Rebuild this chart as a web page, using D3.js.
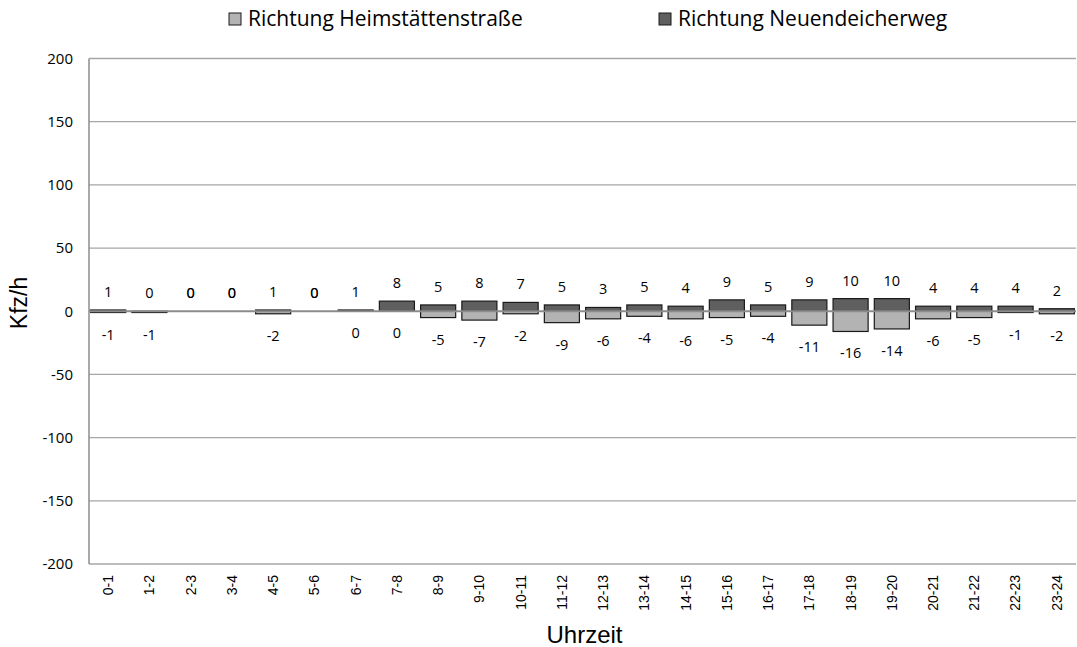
<!DOCTYPE html>
<html>
<head>
<meta charset="utf-8">
<script src="https://cdn.jsdelivr.net/npm/d3@7"></script>
<style>
  html, body { margin: 0; padding: 0; background: #fff; }
  svg { display: block; }
</style>
</head>
<body>
<svg id="chart" width="1077" height="647"></svg>
<script>
const categories = ["0-1","1-2","2-3","3-4","4-5","5-6","6-7","7-8","8-9","9-10","10-11","11-12","12-13","13-14","14-15","15-16","16-17","17-18","18-19","19-20","20-21","21-22","22-23","23-24"];
const heimValues = [-1,-1,0,0,-2,0,0,0,-5,-7,-2,-9,-6,-4,-6,-5,-4,-11,-16,-14,-6,-5,-1,-2];
const neuenValues = [1,0,0,0,1,0,1,8,5,8,7,5,3,5,4,9,5,9,10,10,4,4,4,2];
const yTicks = [-200,-150,-100,-50,0,50,100,150,200];
const seriesNames = ["Richtung Heimstättenstraße", "Richtung Neuendeicherweg"];
const seriesColors = ["#b3b3b3", "#5f5f5f"];

(function () {
const svg = d3.select("#chart");
const pLeft = 89, pRight = 1076, pTop = 58.5, pBottom = 564;

const x = d3.scaleBand().domain(categories).range([pLeft, pRight]).paddingInner(0.15).paddingOuter(0.04);
const y = d3.scaleLinear().domain([-200, 200]).range([pBottom, pTop]);

// gridlines
svg.append("g").selectAll("line").data(yTicks.filter(t => t !== 0)).join("line")
  .attr("x1", pLeft).attr("x2", pRight)
  .attr("y1", d => y(d)).attr("y2", d => y(d))
  .attr("stroke", "#a6a6a6").attr("stroke-width", 1.3);

// y axis line
svg.append("line").attr("x1", pLeft).attr("x2", pLeft).attr("y1", pTop).attr("y2", pBottom)
  .attr("stroke", "#8c8c8c").attr("stroke-width", 1.5);

// y tick labels
svg.append("g").selectAll("text").data(yTicks).join("text")
  .attr("x", 73).attr("y", d => y(d)).attr("dy", "0.35em")
  .attr("text-anchor", "end")
  .attr("font-family", "Open Sans, sans-serif").attr("font-size", 15)
  .attr("fill", "#000")
  .text(d => d);

// bars
const series = [
  { name: seriesNames[0], values: heimValues, color: seriesColors[0] },
  { name: seriesNames[1], values: neuenValues, color: seriesColors[1] }
];
series.forEach(s => {
  svg.append("g").selectAll("rect")
    .data(categories.map((c, i) => ({ c, v: s.values[i] })).filter(d => d.v !== 0))
    .join("rect")
    .attr("x", d => x(d.c))
    .attr("width", x.bandwidth())
    .attr("y", d => y(Math.max(0, d.v)))
    .attr("height", d => Math.abs(y(d.v) - y(0)))
    .attr("fill", s.color)
    .attr("stroke", "#1a1a1a").attr("stroke-width", 1.2);
});

// zero line
svg.append("line").attr("x1", pLeft).attr("x2", pRight).attr("y1", y(0)).attr("y2", y(0))
  .attr("stroke", "#8c8c8c").attr("stroke-width", 2.2);

// value labels
const labelFont = "Open Sans, sans-serif";
function addLabels(values, belowFn) {
  svg.append("g").selectAll("text")
    .data(categories.map((c, i) => ({ c, v: values[i], i })))
    .join("text")
    .attr("x", d => x(d.c) + x.bandwidth() / 2)
    .attr("y", d => belowFn(d) ? y(d.v) + 27 : y(d.v) - 13)
    .attr("text-anchor", "middle")
    .attr("font-family", labelFont).attr("font-size", 14.5)
    .attr("fill", "#000")
    .text(d => d.v);
}
addLabels(neuenValues, d => d.v < 0);
addLabels(heimValues, d => d.v < 0 || neuenValues[d.i] !== 0);

// x tick labels (rotated)
svg.append("g").selectAll("text").data(categories).join("text")
  .attr("transform", d => `translate(${x(d) + x.bandwidth() / 2},575) rotate(-90)`)
  .attr("dy", "0.35em")
  .attr("text-anchor", "end")
  .attr("font-family", "Liberation Sans, Arial, sans-serif").attr("font-size", 14)
  .attr("fill", "#000")
  .text(d => d);

// axis titles
svg.append("text")
  .attr("x", (pLeft + pRight) / 2 + 2).attr("y", 643)
  .attr("text-anchor", "middle")
  .attr("font-family", "Liberation Sans, Arial, sans-serif").attr("font-size", 24)
  .attr("fill", "#000")
  .text("Uhrzeit");
svg.append("text")
  .attr("transform", "translate(27,303) rotate(-90)")
  .attr("text-anchor", "middle")
  .attr("font-family", "Liberation Sans, Arial, sans-serif").attr("font-size", 23)
  .attr("fill", "#000")
  .text("Kfz/h");

// legend
const legendItems = [
  { name: seriesNames[0], color: seriesColors[0], x: 229 },
  { name: seriesNames[1], color: seriesColors[1], x: 659 }
];
const lg = svg.append("g").selectAll("g").data(legendItems).join("g")
  .attr("transform", d => `translate(${d.x},0)`);
lg.append("rect").attr("x", 0).attr("y", 13).attr("width", 12).attr("height", 12)
  .attr("fill", d => d.color).attr("stroke", "#1a1a1a").attr("stroke-width", 1);
lg.append("text").attr("x", 19).attr("y", 26)
  .attr("font-family", "Open Sans, sans-serif").attr("font-size", 21)
  .attr("fill", "#000")
  .text(d => d.name);
})();
</script>
</body>
</html>
